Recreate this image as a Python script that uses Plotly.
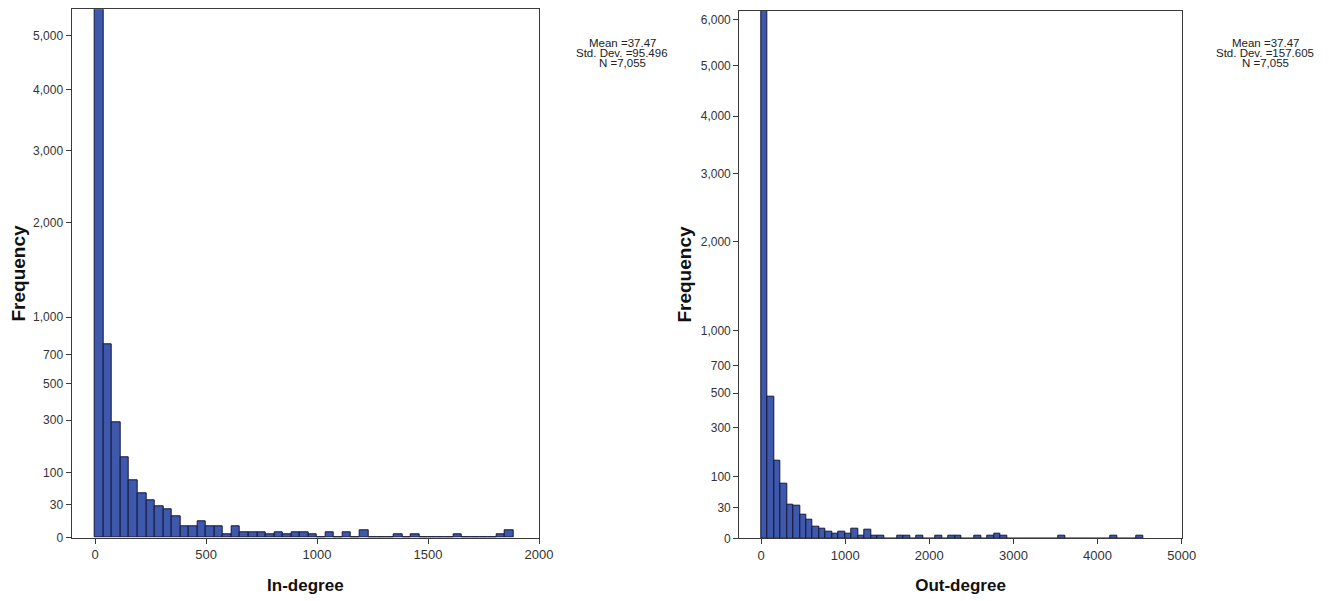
import numpy as np
import plotly.graph_objects as go

# ---------------- data ----------------
IN_BIN_WIDTH = 500 / 13
OUT_BIN_WIDTH = 1000 / 13

in_counts = [5536, 778, 289, 148, 79, 51, 37, 28, 24, 15, 6, 6, 10, 6, 6, 1, 6, 2, 2, 2,
             1, 2, 1, 2, 2, 1, 0, 2, 0, 2, 0, 3, 0, 0, 0, 1, 0, 1, 0, 0,
             0, 0, 1, 0, 0, 0, 0, 1, 3]
out_counts = [6201, 475, 152, 82, 34, 32, 19, 13, 6, 5, 3, 2, 3, 2, 5, 1, 4, 1, 1, 0,
              0, 1, 1, 0, 1, 0, 0, 1, 0, 1, 1, 0, 0, 1, 0, 1, 2, 1, 0, 0,
              0, 0, 0, 0, 0, 0, 1, 0, 0, 0, 0, 0, 0, 0, 1, 0, 0, 0, 1]

freq_ticks_in = [0, 30, 100, 300, 500, 700, 1000, 2000, 3000, 4000, 5000]
freq_ticks_out = [0, 30, 100, 300, 500, 700, 1000, 2000, 3000, 4000, 5000, 6000]
x_ticks_in = [0, 500, 1000, 1500, 2000]
x_ticks_out = [0, 1000, 2000, 3000, 4000, 5000]

stats_in = ["Mean =37.47", "Std. Dev. =95.496", "N =7,055"]
stats_out = ["Mean =37.47", "Std. Dev. =157.605", "N =7,055"]


def sq(v):
    """SPSS-like square-root frequency scale."""
    return np.sqrt(np.asarray(v, dtype=float) + 1.0) - 1.0


BAR_FILL = "#3E58AC"
BAR_LINE = "#15183a"
AX = "#3a3a3a"
FONT = "Liberation Sans, Arial, sans-serif"

fig = go.Figure()

in_centers = (np.arange(len(in_counts)) + 0.5) * IN_BIN_WIDTH
out_centers = (np.arange(len(out_counts)) + 0.5) * OUT_BIN_WIDTH

fig.add_trace(go.Bar(x=in_centers, y=sq(in_counts), width=IN_BIN_WIDTH,
                     customdata=in_counts, hovertemplate="%{customdata}<extra></extra>",
                     marker=dict(color=BAR_FILL, line=dict(color=BAR_LINE, width=1)),
                     xaxis="x", yaxis="y", showlegend=False))
fig.add_trace(go.Bar(x=out_centers, y=sq(out_counts), width=OUT_BIN_WIDTH,
                     customdata=out_counts, hovertemplate="%{customdata}<extra></extra>",
                     marker=dict(color=BAR_FILL, line=dict(color=BAR_LINE, width=1)),
                     xaxis="x2", yaxis="y2", showlegend=False))

W, H = 1329, 601
OFF = 8  # page body margin of the html page


def px_x(p):
    return (p - OFF) / W


def px_y(p):
    return 1 - (p - OFF) / H


axis_common = dict(showgrid=False, zeroline=False, showline=True, mirror=True,
                   linecolor=AX, linewidth=1.3, ticks="outside", ticklen=5,
                   tickcolor=AX, tickwidth=1.3, automargin=False,
                   tickfont=dict(family=FONT, size=12, color="#333333"))
xtickfont = dict(family=FONT, size=13, color="#333333")
xtitlefont = dict(family=FONT, size=17, color="#111")
ytitlefont = dict(family=FONT, size=19, color="#111")

fig.update_layout(
    width=W, height=H, autosize=False,
    margin=dict(l=0, r=0, t=0, b=0),
    paper_bgcolor="white", plot_bgcolor="white",
    bargap=0,
    xaxis=dict(domain=[px_x(71.7), px_x(539)], range=[-105, 2000],
               tickvals=x_ticks_in, ticktext=[str(v) for v in x_ticks_in],
               title=dict(text="<b>In-degree</b>", font=xtitlefont, standoff=17),
               anchor="y", **{**axis_common, "tickfont": xtickfont}),
    yaxis=dict(domain=[px_y(537.7), px_y(9.3)], range=[0, float(sq(5536))],
               tickvals=sq(freq_ticks_in).tolist(), ticktext=[f"{v:,}" for v in freq_ticks_in],
               title=dict(text="<b>Frequency</b>", font=ytitlefont, standoff=4),
               anchor="x", **axis_common),
    xaxis2=dict(domain=[px_x(739.3), px_x(1181.7)], range=[-258, 5000],
                tickvals=x_ticks_out, ticktext=[str(v) for v in x_ticks_out],
                title=dict(text="<b>Out-degree</b>", font=xtitlefont, standoff=17),
                anchor="y2", **{**axis_common, "tickfont": xtickfont}),
    yaxis2=dict(domain=[px_y(538.3), px_y(10.7)], range=[0, float(sq(6206))],
                tickvals=sq(freq_ticks_out).tolist(), ticktext=[f"{v:,}" for v in freq_ticks_out],
                title=dict(text="<b>Frequency</b>", font=ytitlefont, standoff=4),
                anchor="x2", **axis_common),
)

# summary statistics boxes
for lines, cx in ((stats_in, 622), (stats_out, 1265)):
    for i, txt in enumerate(lines):
        fig.add_annotation(x=px_x(cx), y=px_y(43.5 + 9.8 * i), xref="paper", yref="paper",
                           text=txt, showarrow=False, xanchor="center", yanchor="middle",
                           font=dict(family=FONT, size=11.5, color="#222"))

fig.write_html("out.html")
